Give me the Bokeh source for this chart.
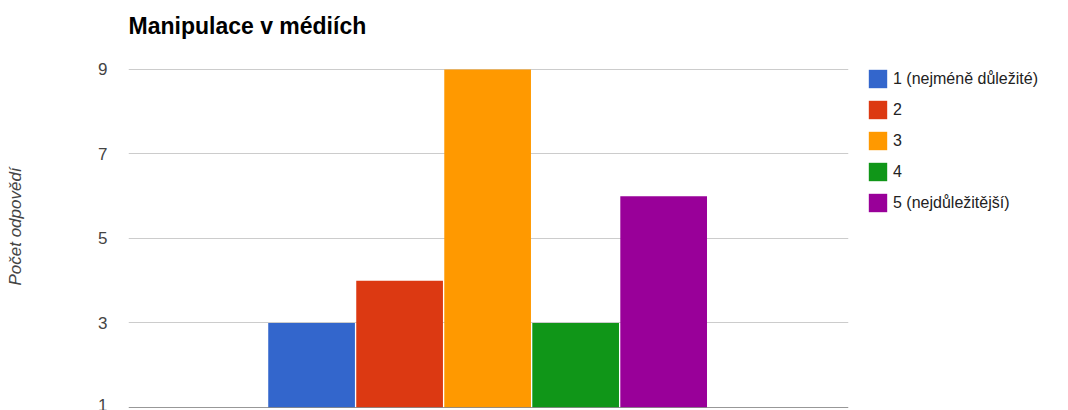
from bokeh.plotting import figure
from bokeh.models import ColumnDataSource, Legend, LegendItem, FixedTicker, Span, Range1d, Title
from bokeh.embed import file_html
from bokeh.resources import INLINE

title_text = "Manipulace v médiích"
y_label = "Počet odpovědí"
categories = ["1 (nejméně důležité)", "2", "3", "4", "5 (nejdůležitější)"]
values = [3, 4, 9, 3, 6]
colors = ["#3366cc", "#dc3912", "#ff9900", "#109618", "#990099"]
y_ticks = [1, 3, 5, 7, 9]

positions = list(range(len(categories)))

p = figure(frame_width=720, frame_height=362, output_backend="svg", toolbar_location=None,
           x_range=Range1d(-2.08, 6.10), y_range=Range1d(1, 9.568),
           min_border_left=128, min_border_top=45, min_border_bottom=3, min_border_right=220,
           background_fill_color="white", border_fill_color="white")
p.outline_line_color = None
p.title = Title(text=title_text, align="left", text_font="Liberation Sans",
                text_font_size="23px", text_font_style="bold", text_color="#000000", standoff=14)

renderers = []
for i, cat in enumerate(categories):
    src = ColumnDataSource(dict(x=[positions[i]], top=[values[i]]))
    r = p.vbar(x="x", top="top", bottom=1, width=0.985, source=src,
               fill_color=colors[i], line_color=None)
    renderers.append(r)

p.xaxis.visible = False
p.xgrid.visible = False
p.yaxis.ticker = FixedTicker(ticks=y_ticks)
p.ygrid.ticker = FixedTicker(ticks=y_ticks[1:])
p.ygrid.grid_line_color = "#cccccc"
p.yaxis.axis_line_color = None
p.yaxis.major_tick_line_color = None
p.yaxis.minor_tick_line_color = None
p.yaxis.major_tick_out = 0
p.yaxis.major_tick_in = 0
p.yaxis.major_label_standoff = 21
p.yaxis.major_label_text_font = "Liberation Sans"
p.yaxis.major_label_text_font_size = "17px"
p.yaxis.major_label_text_color = "#444444"
p.yaxis.axis_label = y_label
p.yaxis.axis_label_text_font = "Liberation Sans"
p.yaxis.axis_label_text_font_size = "17px"
p.yaxis.axis_label_text_font_style = "italic"
p.yaxis.axis_label_text_color = "#444444"
p.yaxis.axis_label_standoff = 70

p.add_layout(Span(location=1, dimension="width", line_color="#333333", line_width=1))

items = [LegendItem(label=categories[i], renderers=[renderers[i]]) for i in range(len(categories))]
legend = Legend(items=items, location=(18, 193), margin=0, padding=0,
                glyph_width=23, glyph_height=23, label_height=23, spacing=8, label_standoff=4,
                label_text_font="Liberation Sans", label_text_font_size="16px",
                label_text_color="#222222", border_line_color=None, background_fill_alpha=0)
p.add_layout(legend, "right")

open("out.html", "w").write(file_html(p, INLINE))
